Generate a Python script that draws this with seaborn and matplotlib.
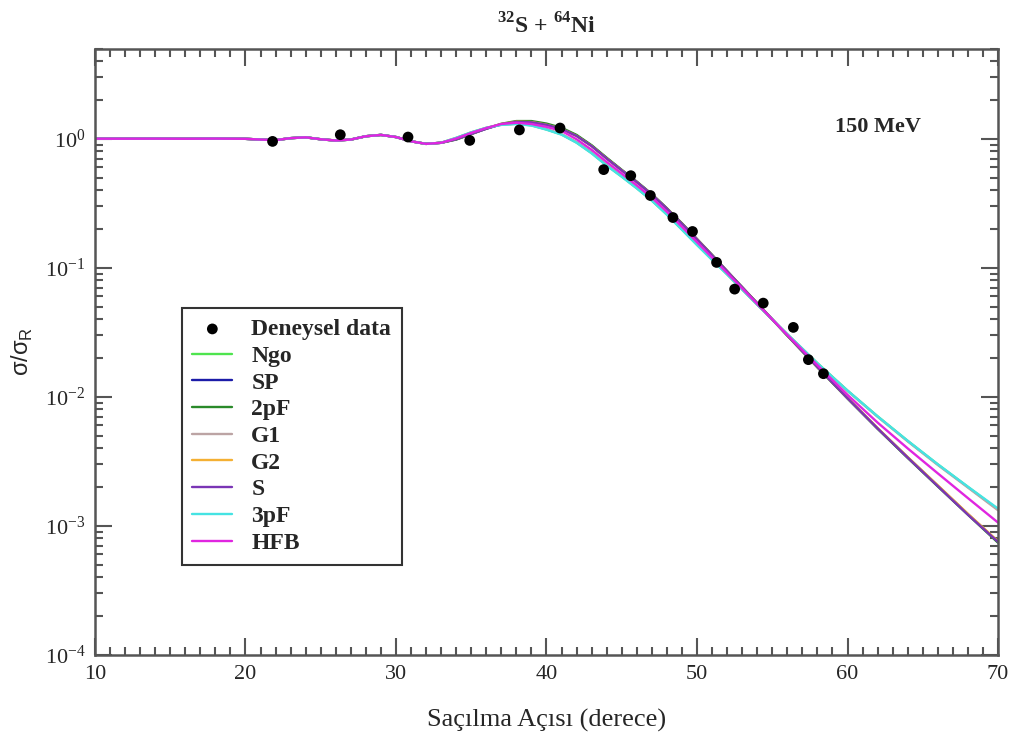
import matplotlib
matplotlib.use("Agg")
import matplotlib.pyplot as plt
import seaborn as sns
import pandas as pd
from matplotlib.ticker import MultipleLocator, LogLocator, NullFormatter

# scattering angle grid (degrees)
angles = [10, 12, 14, 16, 18, 20, 21, 22, 23, 24, 25, 26, 27, 28, 29, 30, 31, 32, 33, 34,
          35, 36, 37, 38, 39, 40, 41, 42, 43, 44, 45, 46, 47, 48, 49, 50, 51, 52, 54, 56,
          58, 60, 62, 64, 66, 68, 70]

# common forward part (10-33 deg)
forward = [1.000, 1.000, 1.001, 0.999, 1.002, 0.998, 0.985, 0.975, 1.010, 1.025, 0.990,
           0.968, 0.985, 1.045, 1.070, 1.030, 0.955, 0.912, 0.930]

ngo = forward + [1.015, 1.120, 1.215, 1.285, 1.305, 1.270, 1.180, 1.080, 0.935, 0.775, 0.622,
                 0.510, 0.414, 0.332, 0.259, 0.198, 0.151, 0.116, 0.0891, 0.0518, 0.0305,
                 0.0182, 0.01117, 0.00705, 0.00455, 0.00299, 0.00200, 0.00134]
sp = forward + [0.990, 1.090, 1.195, 1.295, 1.355, 1.345, 1.285, 1.195, 1.055, 0.880, 0.705,
                0.570, 0.462, 0.370, 0.288, 0.220, 0.166, 0.125, 0.0940, 0.0531, 0.0299,
                0.0170, 0.00977, 0.00569, 0.00339, 0.00204, 0.00123, 0.00075]
pf2 = forward + [0.985, 1.085, 1.200, 1.305, 1.370, 1.370, 1.310, 1.215, 1.070, 0.890, 0.712,
                 0.574, 0.465, 0.372, 0.289, 0.221, 0.167, 0.126, 0.0942, 0.0531, 0.0298,
                 0.0169, 0.00970, 0.00565, 0.00336, 0.00202, 0.00122, 0.00074]
g1 = forward + [1.010, 1.115, 1.210, 1.285, 1.310, 1.275, 1.185, 1.085, 0.940, 0.780, 0.626,
                0.513, 0.416, 0.334, 0.260, 0.199, 0.152, 0.117, 0.0893, 0.0519, 0.0305,
                0.0181, 0.01110, 0.00700, 0.00451, 0.00296, 0.00198, 0.00132]
g2 = forward + [0.995, 1.095, 1.200, 1.300, 1.355, 1.345, 1.282, 1.190, 1.050, 0.876, 0.702,
                0.568, 0.460, 0.369, 0.287, 0.219, 0.166, 0.125, 0.0938, 0.0530, 0.0299,
                0.0170, 0.00980, 0.00572, 0.00341, 0.00206, 0.00124, 0.00076]
s = forward + [0.990, 1.090, 1.195, 1.295, 1.350, 1.340, 1.280, 1.190, 1.050, 0.876, 0.702,
               0.568, 0.461, 0.369, 0.287, 0.219, 0.166, 0.125, 0.0939, 0.0530, 0.0299,
               0.0170, 0.00975, 0.00568, 0.00338, 0.00203, 0.00122, 0.00075]
pf3 = forward + [1.015, 1.120, 1.215, 1.280, 1.300, 1.265, 1.175, 1.075, 0.930, 0.770, 0.618,
                 0.507, 0.412, 0.331, 0.258, 0.197, 0.150, 0.115, 0.0888, 0.0518, 0.0306,
                 0.0182, 0.01117, 0.00705, 0.00456, 0.00300, 0.00201, 0.00136]
hfb = forward + [1.005, 1.110, 1.210, 1.300, 1.330, 1.300, 1.235, 1.150, 0.990, 0.820, 0.660,
                 0.537, 0.435, 0.350, 0.272, 0.208, 0.158, 0.120, 0.0912, 0.0525, 0.0302,
                 0.0176, 0.01035, 0.00631, 0.00398, 0.00255, 0.00164, 0.00106]

curve_names = ["Ngo", "SP", "2pF", "G1", "G2", "S", "3pF", "HFB"]
curve_values = [ngo, sp, pf2, g1, g2, s, pf3, hfb]
curve_colors = ["#4ee44e", "#1c1ca8", "#2a8a2a", "#bca4a4", "#f4b033", "#7a35b5",
                "#45e3e3", "#e025e0"]

# experimental data
exp_angle = [21.8, 26.3, 30.8, 34.9, 38.2, 40.9, 43.8, 45.6, 46.9, 48.4, 49.7, 51.3,
             52.5, 54.4, 56.4, 57.4, 58.4]
exp_ratio = [0.953, 1.074, 1.030, 0.970, 1.170, 1.210, 0.576, 0.517, 0.363, 0.245, 0.191,
             0.110, 0.0683, 0.0532, 0.0345, 0.0194, 0.0151]

sns.set_theme(style="ticks")
plt.rcParams["font.family"] = ["Liberation Serif", "DejaVu Serif"]
plt.rcParams["mathtext.fontset"] = "custom"
plt.rcParams["mathtext.rm"] = "Liberation Serif"
plt.rcParams["mathtext.bf"] = "Liberation Serif:bold"
plt.rcParams["mathtext.sf"] = "Liberation Sans"
plt.rcParams["axes.unicode_minus"] = False

fig = plt.figure(figsize=(10.21, 7.35), dpi=100)
ax = fig.add_axes([0.093, 0.109, 0.8845, 0.825])

exp_df = pd.DataFrame({"angle": exp_angle, "ratio": exp_ratio})
sns.scatterplot(data=exp_df, x="angle", y="ratio", color="black", s=60, edgecolor="none",
                ax=ax, label="Deneysel data", zorder=5)

for name, vals, col in zip(curve_names, curve_values, curve_colors):
    df = pd.DataFrame({"angle": angles, "ratio": vals})
    sns.lineplot(data=df, x="angle", y="ratio", color=col, linewidth=1.7, ax=ax, label=name)

ax.set_yscale("log")
ax.set_xlim(10, 70)
ax.set_ylim(1e-4, 5)
ax.xaxis.set_major_locator(MultipleLocator(10))
ax.xaxis.set_minor_locator(MultipleLocator(1))
ax.yaxis.set_major_locator(LogLocator(base=10, numticks=10))
ax.yaxis.set_minor_locator(LogLocator(base=10, subs=range(2, 10), numticks=20))
ax.yaxis.set_minor_formatter(NullFormatter())

spine_col = "#555555"
for sp_ in ax.spines.values():
    sp_.set_linewidth(1.8)
    sp_.set_color(spine_col)
ax.tick_params(which="both", direction="in", top=True, right=True, color=spine_col,
               labelsize=16, width=1.5)
ax.tick_params(which="major", length=12, pad=7)
ax.tick_params(which="minor", length=6)

ax.set_xlabel("Saçılma Açısı (derece)", fontsize=19, labelpad=18)
ax.set_ylabel(r"σ/σ$_{\mathsf{R}}$", fontsize=17, family="Liberation Sans")
ax.yaxis.set_label_coords(-0.066, 0.5)
ax.set_title(r"$^{\mathbf{32}}$S + $^{\mathbf{64}}$Ni", fontsize=17, fontweight="bold", pad=11)
ax.text(0.82, 0.871, "150 MeV", transform=ax.transAxes, fontsize=16, fontweight="bold",
        va="center", ha="left")

leg = ax.legend(loc="lower left", bbox_to_anchor=(0.096, 0.149), borderaxespad=0,
                prop={"weight": "bold", "size": 17}, frameon=True, fancybox=False,
                edgecolor="#333333", framealpha=1, handlelength=1.7, handletextpad=0.8,
                labelspacing=0.22, borderpad=0.45, markerscale=1.0)
leg.get_frame().set_linewidth(1.5)

fig.savefig("out.png", dpi=100)
